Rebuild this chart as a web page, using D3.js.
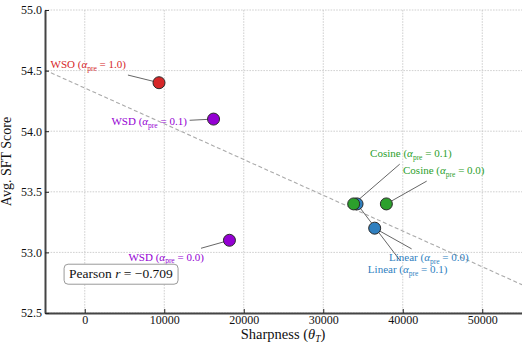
<!DOCTYPE html>
<html>
<head>
<meta charset="utf-8">
<script src="https://cdn.jsdelivr.net/npm/d3@7"></script>
<style>
  body { margin: 0; background: #fff; }
  svg { display: block; font-family: "Liberation Serif", "DejaVu Serif", serif; }
</style>
</head>
<body>
<svg id="chart" width="522" height="342"></svg>
<script>
// data
const methods = ['WSO', 'WSD', 'WSD', 'Linear', 'Linear', 'Cosine', 'Cosine'];
const alphaPre = ['1.0', '0.1', '0.0', '0.0', '0.1', '0.1', '0.0'];
const sharpness = [9340, 16200, 18200, 36470, 34250, 33830, 37940];
const sftScore = [54.4, 54.1, 53.1, 53.2, 53.4, 53.4, 53.4];
// label centres, in data units
const labelX = [440, 8100, 10240, 43280, 40620, 41020, 45160];
const labelY = [54.55, 54.08, 52.96, 52.955, 52.855, 53.815, 53.675];

const xTicks = [0, 10000, 20000, 30000, 40000, 50000];
const yTicks = [52.5, 53.0, 53.5, 54.0, 54.5, 55.0];
const xDomain = [-5000, 55000];
const yDomain = [52.5, 55.0];
const pearsonR = '\u22120.709';

const colors = { WSO: '#d62728', WSD: '#9400d3', Linear: '#2f7fbf', Cosine: '#2ca02c' };

const W = 522, H = 342;
const margin = { top: 10, right: 0, bottom: 29, left: 45 };
const iw = W - margin.left - margin.right;
const ih = H - margin.top - margin.bottom;

const svg = d3.select('#chart');
const g = svg.append('g').attr('transform', `translate(${margin.left},${margin.top})`);

const x = d3.scaleLinear().domain(xDomain).range([0, iw]);
const y = d3.scaleLinear().domain(yDomain).range([ih, 0]);

const points = methods.map((m, i) => ({
  method: m, alpha: alphaPre[i], sx: sharpness[i], sy: sftScore[i], lx: labelX[i], ly: labelY[i]
}));

//grid
g.append('g')
  .selectAll('line')
  .data(xTicks)
  .enter()
  .append('line')
  .attr('x1', (d) => x(d)).attr('x2', (d) => x(d))
  .attr('y1', 0).attr('y2', ih)
  .attr('stroke', '#c4c4c4').attr('stroke-width', 0.8).attr('stroke-dasharray', '1.6,1.2');
g.append('g')
  .selectAll('line')
  .data(yTicks)
  .enter()
  .append('line')
  .attr('x1', 0).attr('x2', iw)
  .attr('y1', (d) => y(d)).attr('y2', (d) => y(d))
  .attr('stroke', '#c4c4c4').attr('stroke-width', 0.8).attr('stroke-dasharray', '1.6,1.2');

// least squares fit
const mx = d3.mean(sharpness), my = d3.mean(sftScore);
const slope = d3.sum(sharpness, (v, i) => (v - mx) * (sftScore[i] - my)) /
  d3.sum(sharpness, (v) => (v - mx) * (v - mx));
const fit = (v) => my + slope * (v - mx);

g.append('line')
  .attr('x1', x(xDomain[0])).attr('y1', y(fit(xDomain[0])))
  .attr('x2', x(xDomain[1])).attr('y2', y(fit(xDomain[1])))
  .attr('stroke', '#aaaaaa').attr('stroke-width', 1.1).attr('stroke-dasharray', '4,2.5');

// axes
const xAxis = g.append('g')
  .attr('transform', `translate(0,${ih})`)
  .call(d3.axisBottom(x).tickValues(xTicks).tickFormat(d3.format('d')).tickSizeInner(-4).tickSizeOuter(0).tickPadding(6));
const yAxis = g.append('g')
  .call(d3.axisLeft(y).tickValues(yTicks).tickFormat(d3.format('.1f')).tickSizeInner(-4).tickSizeOuter(0).tickPadding(6));

[xAxis, yAxis].forEach((ax) => {
  ax.select('.domain').attr('stroke', '#444').attr('stroke-width', 2);
  ax.selectAll('.tick line').attr('stroke', '#222').attr('stroke-width', 1);
  ax.selectAll('.tick text')
    .attr('fill', '#111')
    .style('font-family', '"Liberation Serif", serif')
    .style('font-size', '12px');
});
yAxis.selectAll('.tick text').attr('x', -3);
xAxis.selectAll('.tick text').attr('y', 2.5);

const leaders = g.append('g');
const dots = g.append('g');
const labelG = g.append('g');

// label text with math
function addMathLabel(sel, d) {
  sel.append('tspan').text(d.method + ' (');
  sel.append('tspan').attr('font-style', 'italic').text('\u03b1');
  sel.append('tspan').attr('font-size', '7.5px').attr('dy', 2.5).text('pre');
  sel.append('tspan').attr('dy', -2.5).text(' = ' + d.alpha + ')');
}

const labels = labelG
  .selectAll('text')
  .data(points)
  .enter()
  .append('text')
  .attr('x', (d) => x(d.lx))
  .attr('y', (d) => y(d.ly))
  .attr('dy', '0.32em')
  .attr('text-anchor', 'middle')
  .attr('font-size', '11px')
  .attr('fill', (d) => colors[d.method])
  .each(function (d) { addMathLabel(d3.select(this), d); });

// leader lines, clipped at the label box
labels.each(function (d) {
  const bb = this.getBBox();
  const pad = 2.5;
  const cx = bb.x + bb.width / 2, cy = bb.y + bb.height / 2;
  const px = x(d.sx), py = y(d.sy);
  const dx = px - cx, dy = py - cy;
  const tx = dx === 0 ? Infinity : (bb.width / 2 + pad) / Math.abs(dx);
  const ty = dy === 0 ? Infinity : (bb.height / 2 + pad) / Math.abs(dy);
  const t = Math.min(tx, ty);
  leaders.append('line')
    .attr('x1', cx + dx * t).attr('y1', cy + dy * t)
    .attr('x2', px).attr('y2', py)
    .attr('stroke', '#555').attr('stroke-width', 0.9);
});

// points
dots
  .selectAll('circle')
  .data(points)
  .enter()
  .append('circle')
  .attr('cx', (d) => x(d.sx))
  .attr('cy', (d) => y(d.sy))
  .attr('r', 6)
  .attr('fill', (d) => colors[d.method])
  .attr('stroke', '#2a2a2a')
  .attr('stroke-width', 1);

// pearson box
const box = g.append('g').attr('transform', `translate(${0.04 * iw},${ih - 0.095 * ih})`);
const boxRect = box.append('rect');
const pt = box.append('text')
  .attr('x', 5).attr('y', -6)
  .attr('font-size', '13.5px')
  .attr('fill', '#111');
pt.append('tspan').text('Pearson ');
pt.append('tspan').attr('font-style', 'italic').text('r');
pt.append('tspan').text(' = ' + pearsonR);
const pb = pt.node().getBBox();
boxRect
  .attr('x', 0).attr('y', -20)
  .attr('width', pb.width + 10).attr('height', 20)
  .attr('rx', 4)
  .attr('fill', '#fff')
  .attr('stroke', '#999')
  .attr('stroke-width', 1);

// axis titles
const xt = svg.append('text')
  .attr('x', 283)
  .attr('y', 338.5)
  .attr('text-anchor', 'middle')
  .attr('font-size', '14.5px')
  .attr('fill', '#111');
xt.append('tspan').text('Sharpness (');
xt.append('tspan').attr('font-style', 'italic').text('\u03b8');
xt.append('tspan').attr('font-style', 'italic').attr('font-size', '9.5px').attr('dy', 3).text('T');
xt.append('tspan').attr('dy', -3).text(')');

svg.append('text')
  .attr('transform', `translate(11,${margin.top + ih / 2}) rotate(-90)`)
  .attr('text-anchor', 'middle')
  .attr('font-size', '14px')
  .attr('fill', '#111')
  .text('Avg. SFT Score');
</script>
</body>
</html>
